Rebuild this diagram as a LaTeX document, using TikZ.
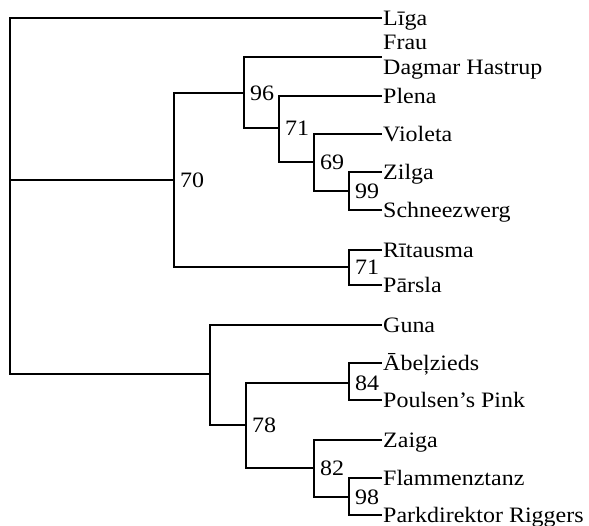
\documentclass[tikz,border=0pt]{standalone}
\usepackage{fontspec}
\setmainfont{Liberation Serif}[FakeStretch=1.09]
\begin{document}
\begin{tikzpicture}[x=1pt,y=-1pt,
  br/.style={line width=2.7pt, line join=miter},
  leaf/.style={anchor=base west, inner sep=0pt, xshift=1pt, yshift=-7pt, font=\fontsize{22}{25}\selectfont},
  boot/.style={anchor=west, inner sep=0pt, xshift=6pt, font=\fontsize{22}{25}\selectfont}]
\useasboundingbox (0,0) rectangle (589,525);
% leaves
\coordinate (liga) at (382,18);
\coordinate (frau) at (382,57);
\coordinate (plena) at (382,96);
\coordinate (violeta) at (382,134);
\coordinate (zilga) at (382,172);
\coordinate (schnee) at (382,210);
\coordinate (ritausma) at (382,250);
\coordinate (parsla) at (382,285);
\coordinate (guna) at (382,325);
\coordinate (abel) at (382,363);
\coordinate (poulsen) at (382,400);
\coordinate (zaiga) at (382,440);
\coordinate (flamm) at (382,478);
\coordinate (park) at (382,515);
% internal nodes
\coordinate (root) at (10,180);
\coordinate (n70) at (174,180);
\coordinate (n96) at (244,93);
\coordinate (n71a) at (279,128);
\coordinate (n69) at (314,162);
\coordinate (n99) at (349,191);
\coordinate (n71b) at (349,267);
\coordinate (nb) at (210,374);
\coordinate (n78) at (246,425);
\coordinate (n84) at (349,383);
\coordinate (n82) at (314,468);
\coordinate (n98) at (349,497);
% branches
\draw[br] (root) |- (liga);
\draw[br] (root) -- (n70);
\draw[br] (root) |- (nb);
\draw[br] (n70) |- (n96);
\draw[br] (n70) |- (n71b);
\draw[br] (n96) |- (frau);
\draw[br] (n96) |- (n71a);
\draw[br] (n71a) |- (plena);
\draw[br] (n71a) |- (n69);
\draw[br] (n69) |- (violeta);
\draw[br] (n69) |- (n99);
\draw[br] (n99) |- (zilga);
\draw[br] (n99) |- (schnee);
\draw[br] (n71b) |- (ritausma);
\draw[br] (n71b) |- (parsla);
\draw[br] (nb) |- (guna);
\draw[br] (nb) |- (n78);
\draw[br] (n78) |- (n84);
\draw[br] (n78) |- (n82);
\draw[br] (n84) |- (abel);
\draw[br] (n84) |- (poulsen);
\draw[br] (n82) |- (zaiga);
\draw[br] (n82) |- (n98);
\draw[br] (n98) |- (flamm);
\draw[br] (n98) |- (park);
% leaf labels
\node[leaf] (tliga) at (liga) {Līga};
\node[anchor=west, inner sep=0pt, xshift=1pt, align=left, font=\fontsize{22}{25}\selectfont] (tfrau) at (frau) {Frau\\Dagmar Hastrup};
\node[leaf] (tplena) at (plena) {Plena};
\node[leaf] (tviol) at (violeta) {Violeta};
\node[leaf] (tzilga) at (zilga) {Zilga};
\node[leaf] (tschnee) at (schnee) {Schneezwerg};
\node[leaf] (trit) at (ritausma) {Rītausma};
\node[leaf] (tpars) at (parsla) {Pārsla};
\node[leaf] (tguna) at (guna) {Guna};
\node[leaf] (tabel) at (abel) {Ābeļzieds};
\node[leaf] (tpoul) at (poulsen) {Poulsen’s Pink};
\node[leaf] (tzaiga) at (zaiga) {Zaiga};
\node[leaf] (tflamm) at (flamm) {Flammenztanz};
\node[leaf] (tpark) at (park) {Parkdirektor Riggers};
% bootstrap values
\node[boot] (b70) at (n70) {70};
\node[boot] (b96) at (n96) {96};
\node[boot] (b71a) at (n71a) {71};
\node[boot] (b69) at (n69) {69};
\node[boot] (b99) at (n99) {99};
\node[boot] (b71b) at (n71b) {71};
\node[boot] (b78) at (n78) {78};
\node[boot] (b84) at (n84) {84};
\node[boot] (b82) at (n82) {82};
\node[boot] (b98) at (n98) {98};
\end{tikzpicture}
\end{document}
